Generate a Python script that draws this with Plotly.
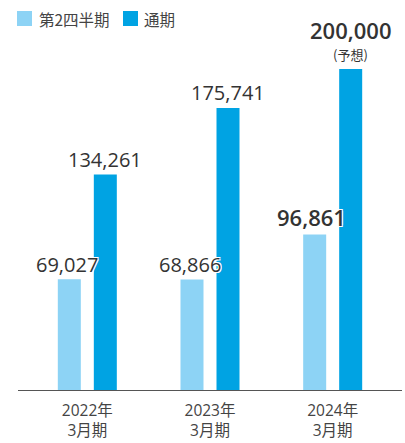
import plotly.graph_objects as go

categories = ["2022年<br>3月期", "2023年<br>3月期", "2024年<br>3月期"]
q2_values = [69027, 68866, 96861]
full_values = [134261, 175741, 200000]
q2_labels = ["69,027", "68,866", "96,861"]
full_labels = ["134,261", "175,741", "200,000"]
forecast_note = "(予想)"
series_names = ["第2四半期", "通期"]

c_light = "#8dd3f5"
c_dark = "#00a3e3"
txt = "#333333"
NUMFONT = "'Open Sans', 'Noto Sans CJK JP', sans-serif"
FONT = "'Noto Sans CJK JP', 'Open Sans', sans-serif"
shadow = "1px 1px 0 #fff, -1px -1px 0 #fff, 1px -1px 0 #fff, -1px 1px 0 #fff"

W, H = 405, 443
ml, mr, mt, mb = 18, 3, 60, 53
ymax = 200000 * (H - mt - mb) / 321.0
unit_px = (W - ml - mr) / 3.13
bar_off = 18 / unit_px  # offset of each bar centre from category centre (in category units)

fig = go.Figure()
fig.add_trace(go.Bar(x=categories, y=q2_values, marker_color=c_light, name=series_names[0],
                     marker_line_width=0, showlegend=False))
fig.add_trace(go.Bar(x=categories, y=full_values, marker_color=c_dark, name=series_names[1],
                     marker_line_width=0, showlegend=False))

# value labels
for i, (v, lab) in enumerate(zip(q2_values, q2_labels)):
    big = i == 2
    fig.add_annotation(x=i - bar_off, y=v, xref="x", yref="y", text=lab, showarrow=False,
                       xshift=-2 if not big else -3, yshift=15 if not big else 18, yanchor="middle",
                       font=dict(family=NUMFONT, size=22 if big else 20, color=txt,
                                 weight=600 if big else 400, shadow=shadow))
for i, (v, lab) in enumerate(zip(full_values, full_labels)):
    big = i == 2
    if big:
        fig.add_annotation(x=i + bar_off, y=v, xref="x", yref="y", text=lab, showarrow=False,
                           xshift=0, yshift=39, yanchor="middle",
                           font=dict(family=NUMFONT, size=22, color=txt, weight=600, shadow=shadow))
        fig.add_annotation(x=i + bar_off, y=v, xref="x", yref="y", text=forecast_note, showarrow=False,
                           xshift=0, yshift=15, yanchor="middle",
                           font=dict(family=FONT, size=13, color=txt))
    else:
        fig.add_annotation(x=i + bar_off, y=v, xref="x", yref="y", text=lab, showarrow=False,
                           xshift=0, yshift=15, yanchor="middle",
                           font=dict(family=NUMFONT, size=20, color=txt, shadow=shadow))

# legend drawn manually
def px_x(p):
    return (p - ml) / (W - ml - mr)
def px_y(p):
    return (H - mb - p) / (H - mt - mb)

legend_items = [(series_names[0], c_light, 17, 37), (series_names[1], c_dark, 123, 142)]
for name, col, sx, tx in legend_items:
    fig.add_shape(type="rect", xref="paper", yref="paper",
                  x0=px_x(sx), x1=px_x(sx + 15), y0=px_y(26), y1=px_y(11),
                  fillcolor=col, line_width=0)
    fig.add_annotation(xref="paper", yref="paper", x=px_x(tx), y=px_y(18.5), text=name,
                       showarrow=False, xanchor="left", yanchor="middle",
                       font=dict(family=FONT, size=15.5, color="#444444"))

fig.update_layout(
    width=W, height=H,
    margin=dict(l=ml, r=mr, t=mt, b=mb),
    paper_bgcolor="white", plot_bgcolor="white",
    barmode="group", bargap=0.413, bargroupgap=0.361,
    font=dict(family=FONT, color="#444444"),
    xaxis=dict(range=[-0.565, 2.565], showline=True, linecolor="#555555", linewidth=1.2,
               ticks="", ticklabelstandoff=6,
               tickfont=dict(family=NUMFONT, size=15.5, color="#444444"), showgrid=False,
               fixedrange=True),
    yaxis=dict(range=[0, ymax], visible=False, showgrid=False, fixedrange=True),
)

fig.write_html("out.html", config={"displayModeBar": False},
               post_script="document.body.style.margin='0';document.body.style.padding='0';")
